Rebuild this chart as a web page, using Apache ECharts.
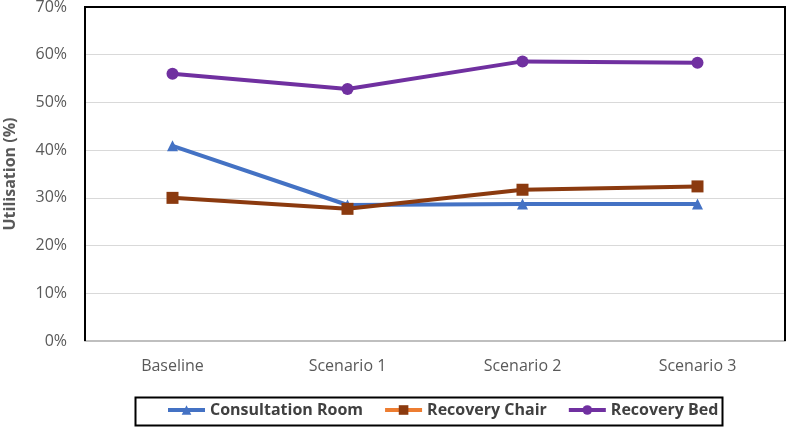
<!DOCTYPE html>
<html><head><meta charset="utf-8">
<script src="https://cdn.jsdelivr.net/npm/echarts@6/dist/echarts.min.js"></script>
<style>html,body{margin:0;padding:0;background:#fff}#c{width:788px;height:428px}</style>
</head><body><div id="c"></div>
<script>
const categories = ['Baseline', 'Scenario 1', 'Scenario 2', 'Scenario 3'];
const consultationRoom = [40.9, 28.5, 28.7, 28.7];
const recoveryChair = [30.0, 27.7, 31.7, 32.4];
const recoveryBed = [56.0, 52.8, 58.6, 58.3];
const yTicks = [0, 10, 20, 30, 40, 50, 60, 70];

const chart = echarts.init(document.getElementById('c'));
const font = '"Open Sans", "Liberation Sans", sans-serif';
chart.setOption({
  animation: false,
  backgroundColor: '#fff',
  textStyle: { fontFamily: font },
  grid: { left: 85, right: 3, top: 7, bottom: 87, containLabel: false, outerBoundsMode: 'none' },
  graphic: [
    { type: 'polyline', shape: { points: [[85, 341], [85, 7], [785, 7], [785, 341]] },
      style: { fill: null, stroke: '#000', lineWidth: 2 }, z: 10 },
    { type: 'rect', left: 133, top: 395, shape: { width: 587, height: 28 },
      style: { fill: 'none', stroke: '#000', lineWidth: 2 } }
  ],
  legend: {
    top: 397, left: 161, itemWidth: 37, itemHeight: 12, itemGap: 20,
    textStyle: { fontFamily: font, fontSize: 16, fontWeight: 'bold', color: '#404040' },
    data: [
      { name: 'Consultation Room', lineStyle: { width: 4 } },
      { name: 'Recovery Chair', lineStyle: { color: '#ED7D31', width: 4 } },
      { name: 'Recovery Bed', lineStyle: { width: 4 } }
    ]
  },
  xAxis: {
    type: 'category', data: categories, boundaryGap: true,
    axisLine: { lineStyle: { color: '#BFBFBF', width: 2 } },
    axisTick: { show: false },
    axisLabel: { color: '#595959', fontSize: 16, margin: 17, fontFamily: font }
  },
  yAxis: {
    type: 'value', min: yTicks[0], max: yTicks[yTicks.length - 1], interval: 10,
    name: 'Utilisation (%)', nameLocation: 'middle', nameGap: 67,
    nameTextStyle: { fontSize: 16, fontWeight: 'bold', color: '#595959', fontFamily: font },
    axisLine: { show: false }, axisTick: { show: false },
    axisLabel: { color: '#595959', fontSize: 16, margin: 18, formatter: v => v + '%', fontFamily: font },
    splitLine: { lineStyle: { color: '#D9D9D9', width: 1 } }
  },
  series: [
    { name: 'Consultation Room', type: 'line', data: consultationRoom, symbol: 'triangle', symbolSize: 11,
      lineStyle: { color: '#4472C4', width: 4 }, itemStyle: { color: '#4472C4' } },
    { name: 'Recovery Chair', type: 'line', data: recoveryChair, symbol: 'rect', symbolSize: 12,
      lineStyle: { color: '#8B3A0F', width: 4 }, itemStyle: { color: '#8B3A0F' } },
    { name: 'Recovery Bed', type: 'line', data: recoveryBed, symbol: 'circle', symbolSize: 12,
      lineStyle: { color: '#7030A0', width: 4 }, itemStyle: { color: '#7030A0' } }
  ]
});
</script></body></html>
